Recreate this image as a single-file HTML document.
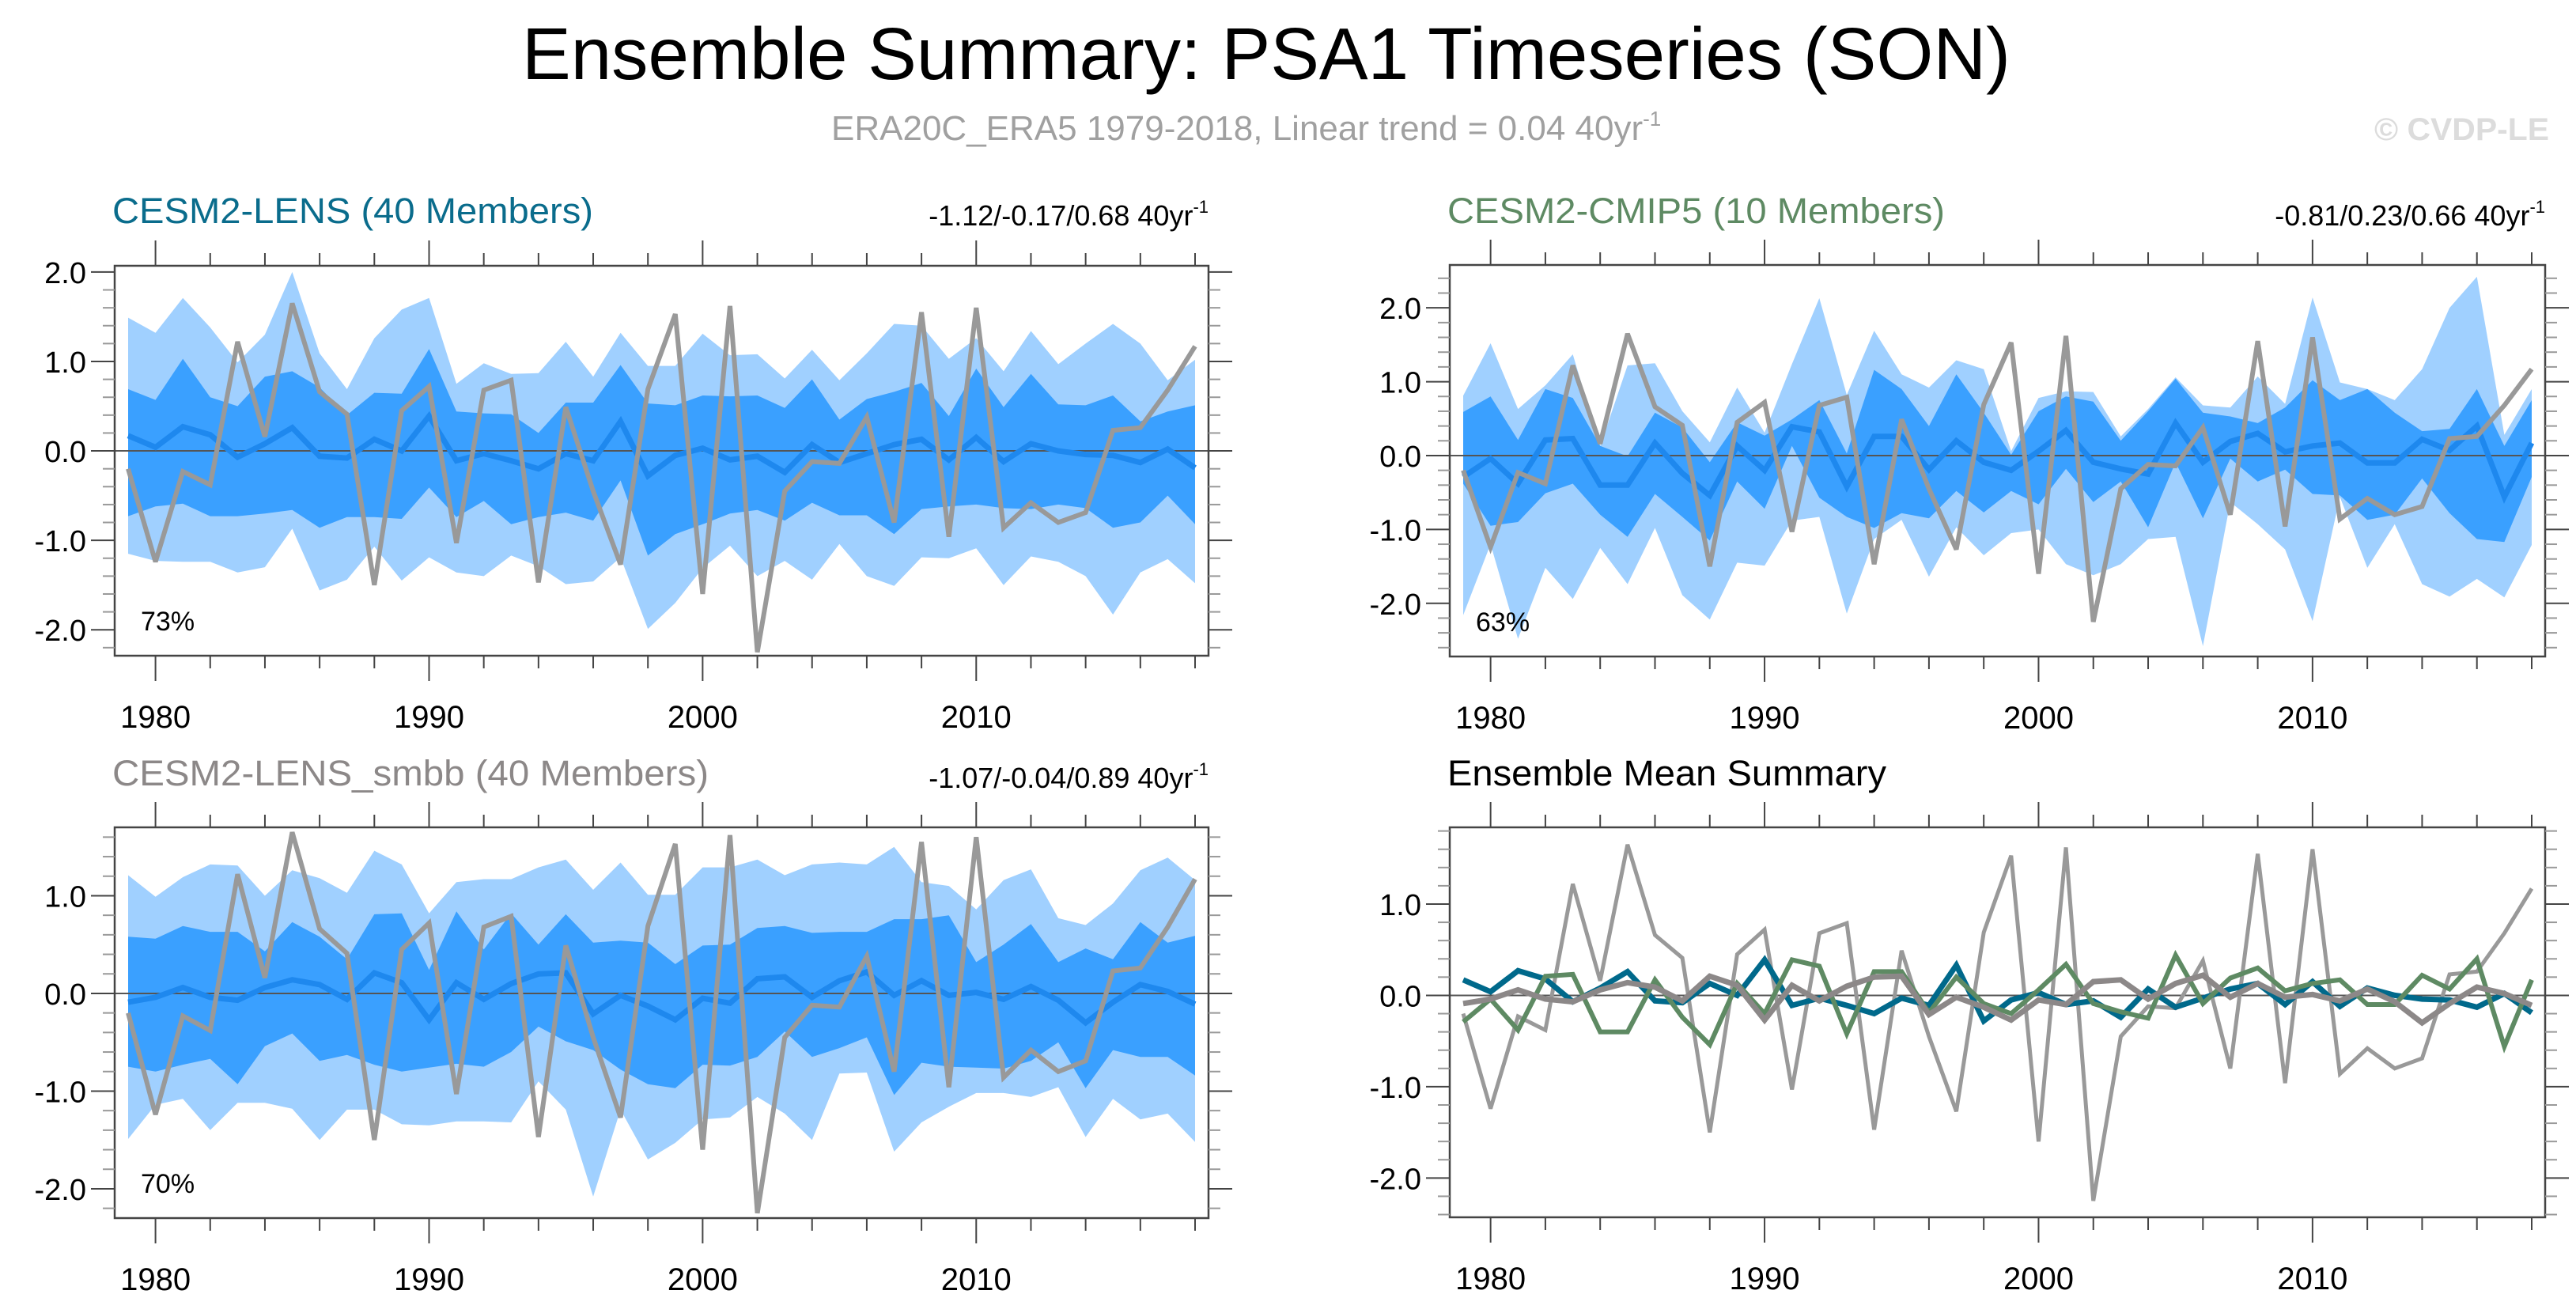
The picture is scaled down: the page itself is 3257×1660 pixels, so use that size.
<!DOCTYPE html>
<html><head><meta charset="utf-8"><style>
html,body{margin:0;padding:0;background:#fff}
svg{display:block;font-family:"Liberation Sans",sans-serif}
</style></head><body>
<svg id="chart" width="3257" height="1660" viewBox="0 0 3257 1660" xmlns="http://www.w3.org/2000/svg">
<text x="660" y="100" font-size="93" textLength="1882" lengthAdjust="spacingAndGlyphs">Ensemble Summary: PSA1 Timeseries (SON)</text>
<text x="1051" y="177" font-size="44" fill="#a0a0a0">ERA20C_ERA5 1979-2018, Linear trend = 0.04 40yr<tspan dy="-18" font-size="26">-1</tspan></text>
<text x="3002" y="177" font-size="40" font-weight="bold" fill="#dcdcdc" textLength="221" lengthAdjust="spacingAndGlyphs">© CVDP-LE</text>
</svg>
<script>
const years = [];
for (let y = 1979; y <= 2018; y++) years.push(y);
const obs = [-0.2,-1.24,-0.23,-0.38,1.22,0.16,1.65,0.66,0.41,-1.5,0.45,0.72,-1.03,0.68,0.79,-1.47,0.49,-0.45,-1.27,0.69,1.53,-1.6,1.62,-2.25,-0.45,-0.12,-0.14,0.38,-0.8,1.55,-0.96,1.6,-0.86,-0.58,-0.8,-0.69,0.23,0.26,0.68,1.17];
const lensMean = [0.17,0.04,0.27,0.18,-0.07,0.08,0.26,-0.06,-0.08,0.13,0.0,0.39,-0.11,-0.03,-0.11,-0.2,-0.03,-0.11,0.33,-0.28,-0.05,0.03,-0.1,-0.06,-0.24,0.07,-0.13,-0.03,0.07,0.13,-0.1,0.15,-0.12,0.08,0.0,-0.04,-0.05,-0.13,0.02,-0.19];
const lensDarkHi = [0.69,0.57,1.03,0.6,0.5,0.83,0.89,0.71,0.4,0.65,0.64,1.14,0.44,0.42,0.41,0.2,0.54,0.54,0.96,0.53,0.51,0.62,0.61,0.62,0.48,0.8,0.35,0.58,0.66,0.76,0.39,0.92,0.49,0.86,0.52,0.51,0.62,0.33,0.44,0.51];
const lensDarkLo = [-0.73,-0.62,-0.59,-0.73,-0.73,-0.7,-0.66,-0.86,-0.74,-0.74,-0.76,-0.41,-0.74,-0.56,-0.82,-0.74,-0.69,-0.78,-0.33,-1.17,-0.93,-0.82,-0.7,-0.66,-0.78,-0.58,-0.72,-0.72,-0.93,-0.65,-0.62,-0.6,-0.64,-0.65,-0.6,-0.64,-0.86,-0.8,-0.5,-0.82];
const lensLightHi = [1.49,1.32,1.71,1.38,0.99,1.3,2.0,1.09,0.69,1.26,1.58,1.71,0.75,0.98,0.86,0.87,1.22,0.83,1.32,0.95,0.95,1.31,1.07,1.08,0.81,1.13,0.79,1.09,1.42,1.4,1.03,1.26,0.89,1.34,0.97,1.2,1.42,1.2,0.79,1.02];
const lensLightLo = [-1.15,-1.23,-1.24,-1.24,-1.36,-1.3,-0.87,-1.56,-1.44,-1.07,-1.45,-1.19,-1.36,-1.4,-1.17,-1.29,-1.49,-1.46,-1.19,-1.99,-1.7,-1.31,-1.06,-1.4,-1.23,-1.44,-1.04,-1.4,-1.51,-1.19,-1.2,-1.09,-1.5,-1.18,-1.24,-1.4,-1.83,-1.36,-1.21,-1.48];
const cmipMean = [-0.29,-0.04,-0.38,0.21,0.23,-0.4,-0.4,0.17,-0.24,-0.54,0.13,-0.2,0.39,0.32,-0.42,0.26,0.26,-0.19,0.2,-0.09,-0.2,0.06,0.34,-0.09,-0.18,-0.25,0.44,-0.09,0.19,0.3,0.05,0.13,0.17,-0.1,-0.1,0.22,0.07,0.4,-0.56,0.17];
const cmipDarkHi = [0.59,0.8,0.21,0.9,0.78,0.13,-0.01,0.58,0.38,-0.09,0.45,0.27,0.49,0.75,0.03,1.16,0.9,0.4,1.1,0.58,0.01,0.6,0.8,0.73,0.2,0.6,1.04,0.58,0.53,0.44,0.65,1.02,0.75,0.9,0.58,0.33,0.36,0.9,0.13,0.75];
const cmipDarkLo = [-0.38,-0.95,-0.9,-0.51,-0.38,-0.8,-1.1,-0.52,-0.83,-1.15,-0.35,-0.72,0.13,-0.57,-0.83,-0.98,-0.78,-0.85,-0.48,-0.77,-0.48,-0.66,-0.18,-0.63,-0.35,-0.97,-0.09,-0.85,-0.04,-0.35,-0.19,-0.52,-0.54,-0.87,-0.8,-0.31,-0.78,-1.13,-1.17,-0.29];
const cmipLightHi = [0.81,1.52,0.63,0.95,1.37,0.13,1.22,1.25,0.6,0.18,0.92,0.31,1.24,2.13,0.82,1.69,1.1,0.92,1.29,1.17,0.06,0.78,0.87,0.86,0.26,0.63,1.06,0.68,0.65,1.07,0.7,2.14,0.99,0.9,0.75,1.17,2.0,2.42,0.28,0.9];
const cmipLightLo = [-2.16,-1.2,-2.48,-1.52,-1.94,-1.25,-1.74,-0.98,-1.89,-2.22,-1.45,-1.49,-0.88,-0.83,-2.14,-1.13,-0.87,-1.64,-0.97,-1.35,-1.05,-1.0,-1.47,-1.62,-1.47,-1.13,-1.1,-2.58,-0.63,-0.93,-1.27,-2.24,-0.56,-1.52,-0.93,-1.74,-1.91,-1.67,-1.92,-1.21];
const smbbMean = [-0.09,-0.04,0.06,-0.04,-0.07,0.06,0.14,0.09,-0.06,0.21,0.11,-0.27,0.11,-0.06,0.1,0.2,0.21,-0.21,-0.02,-0.13,-0.27,-0.05,-0.1,0.15,0.17,-0.04,0.13,0.22,-0.02,0.13,-0.02,0.01,-0.06,0.07,-0.07,-0.3,-0.09,0.09,0.02,-0.11];
const smbbDarkHi = [0.58,0.56,0.69,0.63,0.63,0.43,0.73,0.58,0.35,0.81,0.82,0.24,0.84,0.45,0.82,0.5,0.81,0.52,0.54,0.52,0.3,0.49,0.5,0.67,0.69,0.62,0.63,0.63,0.76,0.76,0.8,0.32,0.5,0.71,0.32,0.46,0.35,0.73,0.52,0.59];
const smbbDarkLo = [-0.75,-0.8,-0.73,-0.67,-0.93,-0.54,-0.41,-0.69,-0.63,-0.73,-0.8,-0.76,-0.72,-0.75,-0.6,-0.34,-0.49,-0.58,-0.78,-0.93,-0.97,-0.73,-0.74,-0.65,-0.39,-0.65,-0.56,-0.45,-1.04,-0.71,-0.75,-0.76,-0.77,-0.69,-0.5,-0.97,-0.58,-0.65,-0.65,-0.84];
const smbbLightHi = [1.21,0.99,1.19,1.32,1.31,1.0,1.26,1.18,1.03,1.46,1.32,0.82,1.14,1.17,1.17,1.29,1.37,1.06,1.34,1.01,1.01,1.29,1.29,1.37,1.21,1.32,1.34,1.32,1.5,1.14,1.1,0.86,1.16,1.27,0.77,0.7,0.92,1.26,1.39,1.16];
const smbbLightLo = [-1.49,-1.14,-1.08,-1.4,-1.12,-1.12,-1.18,-1.5,-1.19,-1.19,-1.34,-1.35,-1.31,-1.31,-1.32,-0.9,-1.19,-2.08,-1.19,-1.7,-1.53,-1.29,-1.27,-1.06,-1.23,-1.5,-0.82,-0.81,-1.62,-1.32,-1.16,-1.02,-1.02,-1.06,-0.96,-1.47,-1.08,-1.29,-1.23,-1.52];
const p1Ticks = [2, 1, 0, -1, -2];
const p1TickLabels = ["2.0","1.0","0.0","-1.0","-2.0"];
const p3Ticks = [1, 0, -1, -2];
const p3TickLabels = ["1.0","0.0","-1.0","-2.0"];
const xTicks = [1980, 1990, 2000, 2010];
const xTickLabels = ["1980","1990","2000","2010"];

const NS = "http://www.w3.org/2000/svg";
const svg = document.getElementById("chart");
function el(tag, attrs, parent) {
  const e = document.createElementNS(NS, tag);
  for (const k in attrs) e.setAttribute(k, attrs[k]);
  (parent || svg).appendChild(e);
  return e;
}

function panel(cfg) {
  const g = el("g", {});
  
  
  const {x0, x1, y0, y1, vTop, vBot} = cfg;
  const xs = yr => x0 + 17 + (yr - 1979) * (x1 - x0 - 34) / 39;
  const ys = v => y0 + (vTop - v) / (vTop - vBot) * (y1 - y0);
  const cid = "clip-" + cfg.name;
  const cp = el("clipPath", {id: cid}, g);
  el("rect", {x: x0, y: y0, width: x1 - x0, height: y1 - y0}, cp);
  const inner = el("g", {"clip-path": "url(#" + cid + ")"}, g);
  function band(hi, lo, color, name) {
    let d = "";
    years.forEach((yr, i) => { d += (i ? "L" : "M") + xs(yr).toFixed(1) + "," + ys(hi[i]).toFixed(1); });
    for (let i = years.length - 1; i >= 0; i--) d += "L" + xs(years[i]).toFixed(1) + "," + ys(lo[i]).toFixed(1);
    const p = el("path", {d: d + "Z", fill: color}, inner);
    
    
  }
  function line(vals, color, w, name) {
    const pts = years.map((yr, i) => xs(yr).toFixed(1) + "," + ys(vals[i]).toFixed(1)).join(" ");
    const p = el("polyline", {points: pts, fill: "none", stroke: color, "stroke-width": w, "stroke-linejoin": "miter", "stroke-miterlimit": 3}, inner);
    
    
  }
  if (cfg.bands) {
    band(cfg.bands[0], cfg.bands[1], "#a0d0ff", "outer-spread-band");
    band(cfg.bands[2], cfg.bands[3], "#3aa0ff", "inner-spread-band");
  }
  const zl = el("line", {x1: x0, x2: x1, y1: ys(0), y2: ys(0), stroke: "#555", "stroke-width": 2}, inner);
  
  
  cfg.lines.forEach(l => line(l[0], l[1], l[2], l[3]));
  const fr = el("rect", {x: x0, y: y0, width: x1 - x0, height: y1 - y0, fill: "none", stroke: "#444", "stroke-width": 2.5}, g);
  
  
  for (let yr = 1980; yr <= 2018; yr += 2) {
    const major = xTicks.includes(yr);
    const L = major ? 32 : 16;
    el("line", {x1: xs(yr), x2: xs(yr), y1: y0, y2: y0 - L, stroke: "#444", "stroke-width": 2}, g);
    el("line", {x1: xs(yr), x2: xs(yr), y1: y1, y2: y1 + L, stroke: "#444", "stroke-width": 2}, g);
  }
  xTicks.forEach((t, i) => {
    const tx = el("text", {x: xs(t), y: y1 + 91, "font-size": 40, "text-anchor": "middle"}, g);
    
    
    tx.textContent = xTickLabels[i];
  });
  for (let k = Math.ceil(vBot * 5); k <= Math.floor(vTop * 5); k++) {
    const v = k / 5;
    const major = k % 5 === 0;
    const L = major ? 30 : 15;
    el("line", {x1: x0, x2: x0 - L, y1: ys(v), y2: ys(v), stroke: major ? "#444" : "#999", "stroke-width": 2}, g);
    el("line", {x1: x1, x2: x1 + L, y1: ys(v), y2: ys(v), stroke: major ? "#444" : "#999", "stroke-width": 2}, g);
  }
  cfg.yTicks.forEach((t, i) => {
    const tx = el("text", {x: x0 - 36, y: ys(t) + 14, "font-size": 38, "text-anchor": "end"}, g);
    
    
    tx.textContent = cfg.yLabels[i];
  });
  const t = el("text", {x: x0 - 3, y: cfg.titleY, "font-size": 45, fill: cfg.titleColor, textLength: cfg.titleLen, lengthAdjust: "spacingAndGlyphs"}, g);
  
  
  t.textContent = cfg.title;
  if (cfg.trend) {
    const r = el("text", {x: x1, y: cfg.titleY + 3, "font-size": 36, "text-anchor": "end"}, g);
    
    
    r.appendChild(document.createTextNode(cfg.trend + " 40yr"));
    const s = el("tspan", {dy: -16, "font-size": 22}, r);
    s.textContent = "-1";
  }
  if (cfg.pct) {
    const p = el("text", {x: x0 + 33, y: y1 - 32, "font-size": 34}, g);
    
    
    p.textContent = cfg.pct;
  }
}

panel({name: "cesm2-lens-panel", x0: 145, x1: 1528, y0: 336, y1: 829, vTop: 2.07, vBot: -2.29,
  bands: [lensLightHi, lensLightLo, lensDarkHi, lensDarkLo],
  lines: [[lensMean, "#1e88ee", 7, "ensemble-mean-line"], [obs, "#999", 6, "observed-line"]],
  yTicks: p1Ticks, yLabels: p1TickLabels, title: "CESM2-LENS (40 Members)", titleColor: "#0a6c8c", titleLen: 608, titleY: 282,
  trend: "-1.12/-0.17/0.68", pct: "73%"});
panel({name: "cesm2-cmip5-panel", x0: 1833, x1: 3218, y0: 335, y1: 830, vTop: 2.58, vBot: -2.72,
  bands: [cmipLightHi, cmipLightLo, cmipDarkHi, cmipDarkLo],
  lines: [[cmipMean, "#1e88ee", 7, "ensemble-mean-line"], [obs, "#999", 6, "observed-line"]],
  yTicks: p1Ticks, yLabels: p1TickLabels, title: "CESM2-CMIP5 (10 Members)", titleColor: "#5e8a63", titleLen: 629, titleY: 282,
  trend: "-0.81/0.23/0.66", pct: "63%"});
panel({name: "cesm2-lens-smbb-panel", x0: 145, x1: 1528, y0: 1046, y1: 1540, vTop: 1.70, vBot: -2.30,
  bands: [smbbLightHi, smbbLightLo, smbbDarkHi, smbbDarkLo],
  lines: [[smbbMean, "#1e88ee", 7, "ensemble-mean-line"], [obs, "#999", 6, "observed-line"]],
  yTicks: p3Ticks, yLabels: p3TickLabels, title: "CESM2-LENS_smbb (40 Members)", titleColor: "#8c8888", titleLen: 754, titleY: 993,
  trend: "-1.07/-0.04/0.89", pct: "70%"});
panel({name: "ensemble-mean-summary-panel", x0: 1833, x1: 3218, y0: 1046, y1: 1539, vTop: 1.84, vBot: -2.43,
  lines: [[obs, "#999", 5, "observed-line"], [lensMean, "#00698b", 7, "cesm2-lens-mean-line"], [cmipMean, "#5e8a63", 6, "cesm2-cmip5-mean-line"], [smbbMean, "#8c8888", 7, "cesm2-lens-smbb-mean-line"]],
  yTicks: p3Ticks, yLabels: p3TickLabels, title: "Ensemble Mean Summary", titleColor: "#000", titleLen: 555, titleY: 993});
</script>
</body></html>
